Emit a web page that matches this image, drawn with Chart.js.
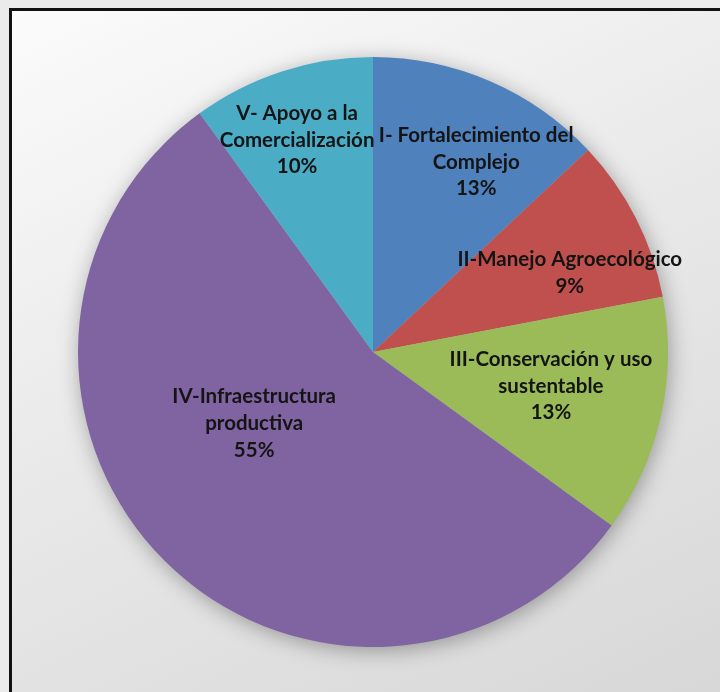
<!DOCTYPE html>
<html>
<head>
<meta charset="utf-8">
<script src="https://cdn.jsdelivr.net/npm/chart.js@4.4.1/dist/chart.umd.min.js"></script>
<style>
  html, body { margin: 0; padding: 0; }
  body { width: 720px; height: 692px; background: #ebebeb; position: relative; overflow: hidden; }
  #frame {
    position: absolute; left: 9px; top: 8px; width: 760px; height: 740px;
    border: 3px solid #111; box-sizing: border-box;
    background: linear-gradient(155deg, #fbfbfb 0%, #ebebeb 38%, #d5d5d5 100%);
  }
  #wrap { position: absolute; left: 0; top: 0; width: 720px; height: 692px; }
</style>
</head>
<body>
<div id="frame"></div>
<div id="wrap"><canvas id="pieChart" width="720" height="692"></canvas></div>
<script>
// datos del gráfico
const categorias = [
  ["I- Fortalecimiento del", "Complejo"],
  ["II-Manejo Agroecológico"],
  ["III-Conservación y uso", "sustentable"],
  ["IV-Infraestructura", "productiva"],
  ["V- Apoyo a la", "Comercialización"]
];
const porcentajes = [13, 9, 13, 55, 10];
const colores = ["#4f81bd", "#c0504d", "#9bbb59", "#8064a2", "#4bacc6"];

// ubicación de cada etiqueta: fracción del radio y desplazamiento de ángulo (grados)
const ubicacion = [[0.733, 5.1], [0.719, 5.1], [0.614, -1.8], [0.47, 14], [0.763, -1.7]];

// sombra suave detrás del pastel
const sombraPlugin = {
  id: "sombra",
  beforeDatasetsDraw(chart) {
    const arc = chart.getDatasetMeta(0).data[0];
    if (!arc) return;
    const c = chart.ctx;
    c.save();
    c.shadowColor = "rgba(0,0,0,0.35)";
    c.shadowBlur = 22;
    c.shadowOffsetX = 2;
    c.shadowOffsetY = 4;
    c.fillStyle = "#bbbbbb";
    c.beginPath();
    c.arc(arc.x, arc.y, arc.outerRadius - 1, 0, Math.PI * 2);
    c.fill();
    c.restore();
  }
};

// etiquetas dentro de cada porción
const etiquetasPlugin = {
  id: "etiquetas",
  afterDatasetsDraw(chart) {
    const c = chart.ctx;
    const meta = chart.getDatasetMeta(0);
    c.save();
    c.font = "bold 20.5px Lato, 'Open Sans', sans-serif";
    c.fillStyle = "#141414";
    c.textAlign = "center";
    c.textBaseline = "middle";
    meta.data.forEach((arc, i) => {
      const mid = (arc.startAngle + arc.endAngle) / 2 + ubicacion[i][1] * Math.PI / 180;
      const r = arc.outerRadius * ubicacion[i][0];
      const x = arc.x + Math.cos(mid) * r;
      const y = arc.y + Math.sin(mid) * r;
      const lineas = categorias[i].concat([porcentajes[i] + "%"]);
      const alto = 26.7;
      const y0 = y - (lineas.length - 1) * alto / 2;
      lineas.forEach((t, k) => c.fillText(t, x, y0 + k * alto));
    });
    c.restore();
  }
};

const ctx = document.getElementById("pieChart").getContext("2d");
const grafico = new Chart(ctx, {
  type: "pie",
  data: {
    labels: categorias.map(l => l.join(" ")),
    datasets: [{
      data: porcentajes,
      backgroundColor: colores,
      borderWidth: 0
    }]
  },
  options: {
    responsive: false,
    animation: false,
    layout: { padding: { top: 57, bottom: 45, left: 78, right: 52 } },
    plugins: {
      legend: { display: false },
      tooltip: { enabled: false }
    }
  },
  plugins: [sombraPlugin, etiquetasPlugin]
});
</script>
</body>
</html>
